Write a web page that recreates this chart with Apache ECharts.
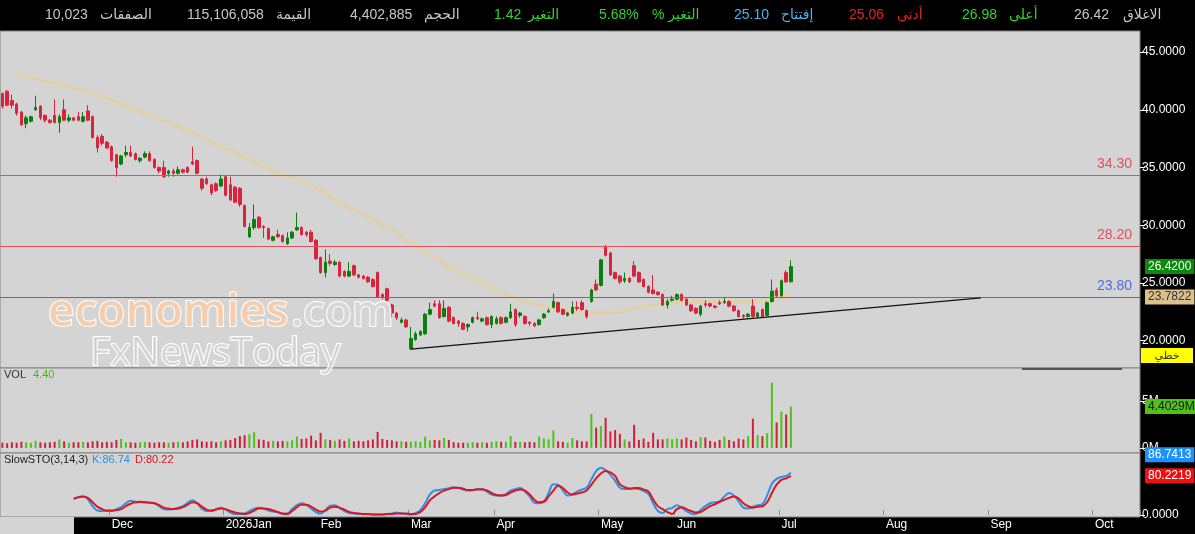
<!DOCTYPE html>
<html>
  <head>
    <title>Stock chart</title>
    <meta charset="utf-8" />
    <script src="https://cdn.jsdelivr.net/npm/echarts@6/dist/echarts.min.js"></script>
    <style>
      body { margin: 0; background: #000; }
    </style>
  </head>
  <body>
    <div id="main" style="width: 1195px;height:534px;"></div>
    <script type="text/javascript">
    // candles: [open, close, low, high], one per trading day
    var candles = [
      [41.4,40.3,40.1,41.5],[41.6,40.4,40.3,41.7],[40.8,40.4,40.1,41.3],[40.5,39.7,39.5,40.6],[39.8,38.7,38.6,39.9],
      [38.8,39.3,38.4,39.5],[39.0,39.4,38.9,39.5],[40.0,40.2,39.9,41.2],[40.3,39.3,39.1,40.4],[39.5,39.1,38.9,39.6],
      [39.1,38.9,38.8,39.2],[39.5,38.9,38.8,40.9],[38.9,39.4,38.0,39.6],[40.0,39.1,39.0,40.9],[39.1,39.3,38.9,39.6],
      [39.3,39.1,39.0,39.4],[39.4,39.1,39.0,39.8],[39.0,39.4,38.9,39.8],[39.9,39.1,39.0,40.4],[39.4,37.6,37.5,39.5],
      [37.6,36.7,36.3,37.8],[37.7,37.1,36.9,37.9],[37.2,36.7,36.6,37.3],[36.8,35.6,35.5,36.9],[36.1,35.0,34.2,36.2],
      [35.3,36.0,35.2,36.1],[36.1,36.3,35.9,36.9],[36.3,36.0,35.9,36.9],[36.2,35.7,35.6,36.3],[35.6,35.8,35.4,35.9],
      [35.9,36.2,35.8,36.4],[36.2,35.6,35.5,36.4],[35.7,35.0,34.9,35.8],[35.0,34.7,34.5,35.1],[35.0,34.2,34.1,35.6],
      [34.5,34.7,34.2,34.8],[34.7,34.5,34.2,34.9],[34.5,34.8,34.4,35.1],[34.8,34.6,34.5,34.9],[35.0,34.6,34.5,35.1],
      [35.5,35.3,35.2,36.8],[35.6,34.5,34.4,35.7],[34.0,33.2,33.0,34.1],[34.0,33.6,33.5,34.2],[33.5,32.8,32.6,33.6],
      [33.6,33.0,32.9,33.7],[33.4,34.0,33.3,34.4],[34.2,32.6,32.5,34.3],[33.5,32.2,32.1,34.2],[33.3,32.0,31.9,33.4],
      [33.2,31.8,31.6,33.3],[31.7,29.9,29.8,31.8],[29.0,29.8,28.9,30.2],[29.8,30.5,29.6,31.8],[30.7,29.8,29.7,30.8],
      [29.9,29.8,28.9,30.0],[29.7,28.8,28.7,29.8],[28.7,29.0,28.6,29.1],[29.2,29.0,28.9,29.6],[29.1,28.6,28.5,29.2],
      [28.4,28.9,28.3,29.4],[28.9,29.4,28.8,29.5],[29.6,29.8,29.5,31.1],[29.8,29.2,29.1,29.9],[29.4,29.2,29.0,29.5],
      [29.4,28.6,28.5,29.6],[28.7,27.1,27.0,28.8],[27.2,25.9,25.8,27.3],[25.9,26.8,25.5,27.9],[26.9,26.7,26.5,27.5],
      [26.6,26.8,26.5,27.0],[26.8,25.6,25.5,26.9],[26.0,25.6,25.5,26.1],[25.6,26.0,25.5,26.8],[26.5,25.7,25.6,26.6],
      [25.7,25.5,25.4,25.8],[25.6,25.4,25.3,25.7],[25.5,25.1,25.0,25.6],[25.3,24.7,24.6,25.4],[25.9,23.8,23.7,26.0],
      [24.0,23.8,23.6,24.1],[24.5,23.5,23.4,24.6],[23.1,22.4,22.0,23.2],[22.4,22.0,21.8,22.5],[21.6,21.8,21.5,22.0],
      [21.8,21.2,21.1,21.9],[19.3,20.2,19.2,21.2],[20.1,20.6,20.0,20.8],[20.5,20.8,20.4,20.9],[20.6,22.3,20.5,22.4],
      [22.3,22.7,22.2,23.3],[23.2,23.0,22.9,23.5],[23.2,22.0,21.9,23.5],[22.1,22.8,22.0,23.5],[22.9,21.7,21.6,23.0],
      [22.0,21.5,21.4,22.1],[21.7,21.5,21.2,21.8],[21.5,21.0,20.9,21.6],[21.2,21.4,20.8,21.5],[21.6,22.0,21.5,22.1],
      [22.0,21.9,21.8,22.5],[21.7,21.9,21.6,22.0],[22.0,21.4,21.3,22.1],[21.4,22.1,21.1,22.2],[21.5,21.9,21.4,22.1],
      [22.0,21.5,21.4,22.1],[21.6,22.0,21.5,22.1],[22.0,22.5,21.9,23.2],[22.7,21.4,21.2,22.8],[22.2,22.4,22.0,22.5],
      [22.1,21.5,21.4,22.2],[21.6,21.5,21.3,21.7],[21.5,21.3,21.2,21.6],[21.4,21.8,21.3,21.9],[22.0,22.3,21.9,22.4],
      [22.5,22.6,22.4,22.8],[22.9,23.4,22.8,24.1],[23.3,22.5,22.4,23.4],[22.7,22.3,22.2,22.8],[22.2,22.4,22.1,22.5],
      [22.4,22.9,22.3,23.4],[22.9,22.8,22.6,23.4],[23.3,22.7,22.6,23.5],[22.6,22.1,21.9,22.7],[23.4,24.4,23.3,24.5],
      [24.9,24.4,24.3,25.3],[24.8,27.0,24.7,27.1],[28.1,27.4,27.3,28.3],[27.6,25.7,25.6,27.7],[25.9,25.4,25.3,26.0],
      [25.6,25.1,24.9,25.7],[25.2,25.4,25.0,25.9],[25.4,25.1,25.0,25.5],[26.5,25.6,25.5,26.9],[25.9,25.1,25.0,26.0],
      [25.3,24.7,24.6,25.4],[24.7,24.2,24.1,24.8],[24.4,24.1,24.0,25.7],[24.2,24.0,23.9,24.3],[24.0,23.1,23.0,24.1],
      [23.1,23.4,22.8,23.6],[23.5,23.6,23.4,23.9],[23.6,24.0,23.5,24.1],[24.0,23.5,23.4,24.1],[23.6,23.1,23.0,23.7],
      [23.1,22.6,22.5,23.2],[22.8,22.4,22.3,22.9],[22.3,23.0,22.1,23.1],[23.2,23.1,22.9,23.5],[23.2,23.0,22.9,23.3],
      [23.0,22.9,22.8,23.1],[23.3,23.2,23.1,23.5],[23.3,23.4,23.2,23.8],[23.4,23.0,22.9,23.5],[23.0,22.6,22.5,23.1],
      [22.6,22.1,22.0,22.7],[22.2,22.1,21.9,22.3],[22.1,22.3,22.0,22.4],[23.0,22.1,22.0,23.6],[22.1,22.4,22.0,22.5],
      [22.7,22.1,22.0,22.8],[22.2,23.3,22.1,23.4],[23.4,24.3,23.3,25.3],[24.4,23.9,23.8,24.6],[23.9,25.2,23.8,25.3],
      [25.9,25.1,25.0,26.1],[25.10,26.42,25.06,26.98]
    ];

    // volume in millions
    var volumes = [
      0.55,0.5,0.6,0.55,0.65,0.6,0.55,0.75,0.6,0.55,0.6,0.65,0.9,0.7,0.55,0.6,0.6,0.65,0.6,0.7,
      0.75,0.6,0.65,0.6,0.85,0.95,0.6,0.6,0.55,0.6,
      0.65,0.6,0.55,0.6,0.6,0.55,0.6,0.65,0.6,0.7,
      0.85,0.9,0.7,0.65,0.7,0.6,0.7,0.8,0.85,1.05,
      1.25,1.35,1.45,1.65,0.9,0.85,0.7,0.75,0.7,0.75,
      0.7,0.8,1.2,0.95,1.0,1.3,0.8,1.6,0.9,0.85,
      0.75,0.9,0.75,1.0,0.7,0.75,0.7,0.8,0.9,1.7,
      0.95,0.85,0.8,0.7,0.7,0.65,0.65,0.7,0.65,1.2,
      0.8,0.85,0.8,1.05,0.85,0.6,0.55,0.55,0.55,0.6,
      0.55,0.6,0.55,0.65,0.7,0.65,0.65,1.25,0.65,0.65,
      0.6,0.65,0.6,1.2,1.0,0.9,1.85,0.7,0.65,0.55,
      1.05,0.8,0.7,0.7,3.6,2.15,2.3,3.2,1.75,1.9,
      1.5,0.9,0.7,2.45,0.85,1.0,0.65,1.6,0.9,0.9,
      1.0,0.9,1.0,0.9,1.1,0.85,0.7,1.15,1.1,0.75,
      0.65,0.85,1.2,0.85,0.7,1.0,0.9,1.25,3.1,1.35,
      1.25,1.55,6.9,2.7,3.85,3.55,4.40
    ];

    // long moving average (tan line)
    var maLine = [
      null,null,null,43.1,43.0,42.9,42.8,42.7,42.6,42.5,
      42.4,42.3,42.2,42.1,42.0,41.9,41.8,41.7,41.6,41.45,
      41.3,41.15,41.0,40.85,40.7,40.55,40.4,40.2,40.05,39.9,
      39.7,39.55,39.4,39.2,39.05,38.9,38.75,38.6,38.4,38.2,
      38.0,37.8,37.6,37.4,37.2,37.0,36.8,36.65,36.5,36.3,
      36.1,35.9,35.7,35.5,35.3,35.1,34.9,34.7,34.5,34.35,
      34.25,34.15,34.05,33.85,33.65,33.45,33.25,33.0,32.75,32.5,
      32.2,32.0,31.8,31.55,31.35,31.1,30.9,30.7,30.45,30.25,
      30.0,29.8,29.6,29.3,29.0,28.7,28.45,28.2,27.95,27.7,
      27.45,27.2,26.95,26.65,26.4,26.2,26.0,25.8,25.6,25.4,
      25.2,25.0,24.8,24.6,24.4,24.2,24.0,23.8,23.65,23.5,
      23.4,23.3,23.2,23.1,23.0,22.9,22.8,22.75,22.7,22.6,
      22.55,22.5,22.45,22.4,22.4,22.4,22.4,22.4,22.4,22.45,
      22.5,22.6,22.7,22.8,22.9,22.95,23.0,23.1,23.15,23.2,
      23.25,23.3,23.3,23.35,23.35,23.35,23.35,23.35,23.35,23.35,
      23.35,23.35,23.35,23.35,23.35,23.35,23.35,23.35,23.35,23.35,
      23.35,23.45,23.55,23.7,23.72,23.75,23.7822
    ];

    // SlowSTO(3,14,3) K and D
    var stoK = [
      null,null,null,null,null,null,null,null,null,null,null,null,null,null,null,
      33,37,38,32,18,9,8,8,8,12,
      16,24,29,27,26,26,25,24,18,12,
      11,12,15,18,25,30,24,13,8,8,
      12,15,11,5,2,2,3,8,13,15,
      13,9,7,5,2,3,12,20,24,20,
      13,6,3,10,19,20,14,8,4,3,
      2,2,2,1,1,1,2,3,5,3,
      2,1,4,10,24,42,50,51,53,55,
      57,55,52,50,51,53,53,48,42,40,
      40,43,50,53,55,48,38,25,24,28,
      45,63,62,50,40,42,48,52,56,73,
      90,97,92,82,70,56,53,53,54,53,
      49,43,24,8,4,12,14,20,15,8,
      3,2,10,18,24,26,28,38,45,40,
      28,15,13,17,20,22,40,64,74,78,
      80,86.74
    ];
    var stoD = [
      null,null,null,null,null,null,null,null,null,null,null,null,null,null,null,
      33,36,38,35,26,17,12,9,9,10,
      12,18,23,26,27,26,25,24,20,15,
      13,12,13,16,21,26,24,17,11,9,
      11,13,12,8,5,3,2,4,9,13,
      13,12,9,6,3,2,8,16,21,21,
      17,11,7,9,15,17,15,11,6,4,
      3,2,2,1,1,1,2,2,3,3,
      3,2,2,6,16,30,38,45,50,53,
      56,56,54,51,51,52,52,50,45,41,
      40,41,46,50,52,50,42,31,26,27,
      38,50,60,55,46,42,44,46,50,62,
      75,85,90,87,80,63,57,54,55,55,
      52,48,32,18,12,6,2,12,16,12,
      8,5,6,12,18,22,27,31,35,38,
      34,24,18,15,17,18,26,45,62,72,
      75,80.22
    ];

    // month labels on the time axis and the slot where each month starts
    var monthLabels = ['Dec','2026Jan','Feb','Mar','Apr','May','Jun','Jul','Aug','Sep','Oct'];
    var monthStart = [23,47,67,86,104,126,142,164,186,208,230];
    var totalSlots = 240;  // traded days + empty days to the right

    var priceTicks = [20,25,30,35,40,45];
    var levels = [
      { value: 34.30, color: '#e2505e' },
      { value: 28.20, color: '#e2505e' },
      { value: 23.80, color: '#4a6ee0' }
    ];
    var trendStart = [86, 19.28];
    var trendEnd = [206, 23.72];

    var header = [
      ['10,023', 45, '#c8c8c8'], ['الصفقات', 100, '#c8c8c8'],
      ['115,106,058', 187, '#c8c8c8'], ['القيمة', 276, '#c8c8c8'],
      ['4,402,885', 350, '#c8c8c8'], ['الحجم', 424, '#c8c8c8'],
      ['1.42', 494, '#35d035'], ['التغير', 528, '#35d035'],
      ['5.68%', 599, '#35d035'], ['% التغير', 652, '#35d035'],
      ['25.10', 734, '#4ab4e6'], ['إفتتاح', 781, '#4ab4e6'],
      ['25.06', 849, '#e02424'], ['أدنى', 897, '#e02424'],
      ['26.98', 962, '#35d035'], ['أعلى', 1009, '#35d035'],
      ['26.42', 1074, '#c8c8c8'], ['الاغلاق', 1123, '#c8c8c8']
    ];

    var cats = [];
    for (var i = 0; i < totalSlots; i++) cats.push(String(i));

    var UP = '#0b7f0b', DOWN = '#d8243c';
    var VUP = '#4cc21a', VDOWN = '#cf1f3a';

    function isMonthStart(index) {
      return monthStart.indexOf(index) >= 0;
    }

    var myChart = echarts.init(document.getElementById('main'));

    var gridBase = { left: 0, right: 55, show: true, backgroundColor: '#d4d4d4', borderColor: '#808080', borderWidth: 1 };

    function xAxisFor(g) {
      var shown = g === 2;
      return {
        type: 'category', gridIndex: g, data: cats, boundaryGap: true,
        axisLine: { show: false },
        axisTick: { show: shown, inside: true, length: 5, interval: function (idx) { return isMonthStart(idx); }, lineStyle: { color: '#8a8a8a' } },
        axisLabel: {
          show: shown, interval: function (idx) { return isMonthStart(idx); },
          formatter: function (v, idx) { return monthLabels[monthStart.indexOf(idx)] || ''; },
          color: '#ffffff', fontSize: 12, fontFamily: 'Liberation Sans, Arial', align: 'left', margin: 2
        },
        splitLine: { show: false }
      };
    }

    // value tag drawn just right of the plot, on the axis strip
    function tag(value, text, bg, fg, offsetY) {
      return {
        yAxis: value,
        lineStyle: { color: 'rgba(0,0,0,0)', width: 0 },
        label: {
          show: true, position: 'end', formatter: text, distance: 5,
          backgroundColor: bg, color: fg, fontSize: 12, fontFamily: 'Liberation Sans, Arial',
          padding: [2, 3, 1, 3], offset: [0, offsetY || 0]
        }
      };
    }

    var levelLines = levels.map(function (l) {
      return {
        yAxis: l.value,
        lineStyle: { color: l.color, width: 1, type: 'solid' },
        label: { show: true, position: 'insideEndTop', formatter: l.value.toFixed(2), color: l.color, fontSize: 14, fontFamily: 'Liberation Sans, Arial', distance: [8, 4] }
      };
    });

    var graphics = [
      { type: 'rect', shape: { x: 0, y: 517, width: 74, height: 17 }, style: { fill: '#d4d4d4' }, z: 10 },
      { type: 'line', shape: { x1: 1022, y1: 369, x2: 1122, y2: 369 }, style: { stroke: '#555', lineWidth: 2 }, z: 10 },
      { type: 'rect', shape: { x: 1141, y: 348, width: 52, height: 15 }, style: { fill: '#ffff00' }, z: 10 },
      { type: 'text', x: 1167, y: 356, style: { text: 'خطي', fill: '#333', font: '11px "DejaVu Sans"', textAlign: 'center', textVerticalAlign: 'middle' }, z: 11 },
      { type: 'text', x: 4, y: 375, style: { text: 'VOL', fill: '#333', font: '11px "Liberation Sans"', textVerticalAlign: 'middle' }, z: 10 },
      { type: 'text', x: 33, y: 375, style: { text: '4.40', fill: '#45b51e', font: '11px "Liberation Sans"', textVerticalAlign: 'middle' }, z: 10 },
      { type: 'text', x: 4, y: 460, style: { text: 'SlowSTO(3,14,3)', fill: '#222', font: '11px "Liberation Sans"', textVerticalAlign: 'middle' }, z: 10 },
      { type: 'text', x: 92, y: 460, style: { text: 'K:86.74', fill: '#2f8fe6', font: '11px "Liberation Sans"', textVerticalAlign: 'middle' }, z: 10 },
      { type: 'text', x: 135, y: 460, style: { text: 'D:80.22', fill: '#e0141e', font: '11px "Liberation Sans"', textVerticalAlign: 'middle' }, z: 10 },
      { type: 'text', x: 48, y: 313, style: { text: 'economies', fill: 'rgba(246,204,168,0.9)', stroke: '#ffffff', lineWidth: 2, font: '600 46px "Open Sans"', textVerticalAlign: 'middle' }, z: 5 },
      { type: 'text', x: 291, y: 313, style: { text: '.com', fill: 'rgba(215,215,215,0.9)', stroke: '#ffffff', lineWidth: 2, font: '600 44px "Open Sans"', textVerticalAlign: 'middle' }, z: 5 },
      { type: 'text', x: 90, y: 354, style: { text: 'FxNewsToday', fill: 'rgba(200,200,200,0.6)', stroke: '#ffffff', lineWidth: 2, font: '39px "Open Sans"', textVerticalAlign: 'middle' }, z: 5 }
    ];
    header.forEach(function (h) {
      graphics.push({ type: 'text', x: h[1], y: 15, style: { text: h[0], fill: h[2], font: '14px "Liberation Sans", "DejaVu Sans"', textVerticalAlign: 'middle' }, z: 10 });
    });

    var option = {
      backgroundColor: '#000000',
      animation: false,
      grid: [
        Object.assign({ top: 31, height: 337 }, gridBase),
        Object.assign({ top: 368, height: 85 }, gridBase),
        Object.assign({ top: 453, height: 64 }, gridBase)
      ],
      xAxis: [xAxisFor(0), xAxisFor(1), xAxisFor(2)],
      yAxis: [
        {
          type: 'value', gridIndex: 0, position: 'right', min: 17.64, max: 46.82,
          axisLine: { show: false }, splitLine: { show: false },
          axisTick: { show: true, customValues: priceTicks, length: 5, lineStyle: { color: '#ffffff' } },
          axisLabel: { customValues: priceTicks, formatter: function (v) { return v.toFixed(4); }, color: '#ffffff', fontSize: 12, fontFamily: 'Liberation Sans, Arial', margin: 2 }
        },
        {
          type: 'value', gridIndex: 1, position: 'right', min: -0.54, max: 8.48,
          axisLine: { show: false }, splitLine: { show: false },
          axisTick: { show: true, customValues: [0, 5], length: 5, lineStyle: { color: '#ffffff' } },
          axisLabel: { customValues: [0, 5], formatter: function (v) { return v + 'M'; }, color: '#ffffff', fontSize: 12, fontFamily: 'Liberation Sans, Arial', margin: 2 }
        },
        {
          type: 'value', gridIndex: 2, position: 'right', min: -4.2, max: 127,
          axisLine: { show: false }, splitLine: { show: false },
          axisTick: { show: true, customValues: [0], length: 5, lineStyle: { color: '#ffffff' } },
          axisLabel: { customValues: [0], formatter: function (v) { return v.toFixed(4); }, color: '#ffffff', fontSize: 12, fontFamily: 'Liberation Sans, Arial', margin: 2 }
        }
      ],
      graphic: graphics,
      series: [
        {
          name: 'price', type: 'candlestick', xAxisIndex: 0, yAxisIndex: 0, data: candles,
          barWidth: 3,
          itemStyle: { color: UP, color0: DOWN, borderColor: UP, borderColor0: DOWN, borderWidth: 1 },
          markLine: {
            symbol: 'none', silent: true, animation: false,
            data: levelLines.concat([
              [
                { coord: [String(trendStart[0]), trendStart[1]], lineStyle: { color: '#111', width: 1.2, type: 'solid' }, label: { show: false } },
                { coord: [String(trendEnd[0]), trendEnd[1]] }
              ],
              tag(26.42, '26.4200', '#0a8a0a', '#ffffff')
            ])
          }
        },
        {
          name: 'MA', type: 'line', xAxisIndex: 0, yAxisIndex: 0, data: maLine,
          symbol: 'none', smooth: true, z: 1,
          lineStyle: { color: 'rgba(232,206,152,0.8)', width: 3 },
          markLine: { symbol: 'none', silent: true, data: [tag(23.7822, '23.7822', '#d9c08c', '#333333')] }
        },
        {
          name: 'VOL', type: 'bar', xAxisIndex: 1, yAxisIndex: 1, barWidth: 2,
          data: volumes.map(function (v, i) {
            var up = candles[i][1] >= candles[i][0];
            return { value: v, itemStyle: { color: up ? VUP : VDOWN } };
          }),
          markLine: { symbol: 'none', silent: true, data: [tag(4.4029, '4.4029M', '#4cc21a', '#1a1a1a')] }
        },
        {
          name: 'K', type: 'line', xAxisIndex: 2, yAxisIndex: 2, data: stoK,
          symbol: 'none', smooth: 0.4, lineStyle: { color: '#2f8fe6', width: 2 },
          markLine: { symbol: 'none', silent: true, data: [tag(86.7413, '86.7413', '#1e90ff', '#ffffff', -18)] }
        },
        {
          name: 'D', type: 'line', xAxisIndex: 2, yAxisIndex: 2, data: stoD,
          symbol: 'none', smooth: 0.4, lineStyle: { color: '#e0141e', width: 2 },
          markLine: { symbol: 'none', silent: true, data: [tag(80.2219, '80.2219', '#ee1111', '#ffffff')] }
        }
      ]
    };

    myChart.setOption(option);
    </script>
  </body>
</html>
